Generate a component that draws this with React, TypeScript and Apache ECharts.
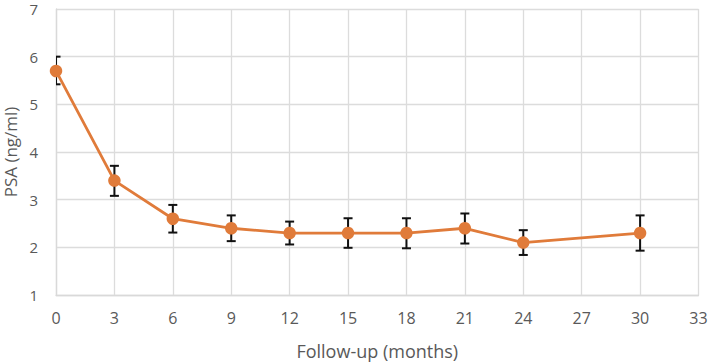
import React, { useEffect, useRef } from "react";
import * as echarts from "echarts";

const months = [0, 3, 6, 9, 12, 15, 18, 21, 24, 30];
const psaMean = [5.7, 3.4, 2.6, 2.4, 2.3, 2.3, 2.3, 2.4, 2.1, 2.3];
const psaLower = [5.42, 3.08, 2.31, 2.13, 2.06, 1.99, 1.98, 2.08, 1.84, 1.93];
const psaUpper = [6.0, 3.71, 2.89, 2.67, 2.54, 2.61, 2.61, 2.71, 2.36, 2.67];

const ORANGE = "#E07B3A";
const TEXT = "#595959";
const FONT = "'Open Sans', 'Noto Sans', sans-serif";

export default function App() {
  const ref = useRef<HTMLDivElement>(null);
  useEffect(() => {
    document.body.style.margin = "0";
    if (!ref.current) return;
    const chart = echarts.init(ref.current, undefined, { renderer: "svg" });
    const lineData = months.map((m, i) => [m, psaMean[i]]);
    const errData = months.map((m, i) => [m, psaLower[i], psaUpper[i]]);
    chart.setOption({
      animation: false,
      backgroundColor: "#ffffff",
      grid: { left: 56, right: 10.5, top: 9, bottom: 67, containLabel: false, outerBoundsMode: "none" },
      xAxis: {
        type: "value",
        min: 0,
        max: 33,
        interval: 3,
        name: "Follow-up (months)",
        nameLocation: "middle",
        nameGap: 47,
        nameTextStyle: { color: TEXT, fontSize: 18, fontFamily: FONT },
        axisLine: { show: true, lineStyle: { color: "#d9d9d9", width: 1.3 } },
        axisTick: { show: false },
        axisLabel: { color: TEXT, fontSize: 16, fontFamily: FONT, margin: 15 },
        splitLine: { show: true, lineStyle: { color: "#dcdcdc", width: 1.3 } },
      },
      yAxis: {
        type: "value",
        min: 1,
        max: 7,
        interval: 1,
        name: "PSA (ng/ml)",
        nameLocation: "middle",
        nameGap: 36,
        nameTextStyle: { color: TEXT, fontSize: 17, fontFamily: FONT },
        axisLine: { show: true, lineStyle: { color: "#d9d9d9", width: 1.3 } },
        axisTick: { show: false },
        axisLabel: { color: TEXT, fontSize: 15, fontFamily: FONT, margin: 18 },
        splitLine: { show: true, lineStyle: { color: "#dcdcdc", width: 1.3 } },
      },
      series: [
        {
          type: "custom",
          clip: true,
          z: 1,
          data: errData,
          encode: { x: 0, y: [1, 2] },
          renderItem: (params: any, api: any) => {
            const x = api.value(0);
            const lo = api.coord([x, api.value(1)]);
            const hi = api.coord([x, api.value(2)]);
            const hw = 4.5;
            const style = { stroke: "#111111", lineWidth: 2 };
            return {
              type: "group",
              children: [
                { type: "line", shape: { x1: lo[0], y1: lo[1], x2: hi[0], y2: hi[1] }, style },
                { type: "line", shape: { x1: hi[0] - hw, y1: hi[1], x2: hi[0] + hw, y2: hi[1] }, style },
                { type: "line", shape: { x1: lo[0] - hw, y1: lo[1], x2: lo[0] + hw, y2: lo[1] }, style },
              ],
            };
          },
        },
        {
          type: "line",
          z: 3,
          data: lineData,
          symbol: "circle",
          symbolSize: 12.5,
          itemStyle: { color: ORANGE },
          lineStyle: { color: ORANGE, width: 2.8 },
          clip: false,
        },
      ],
    });
    return () => chart.dispose();
  }, []);
  return <div ref={ref} style={{ width: 709, height: 362 }} />;
}
